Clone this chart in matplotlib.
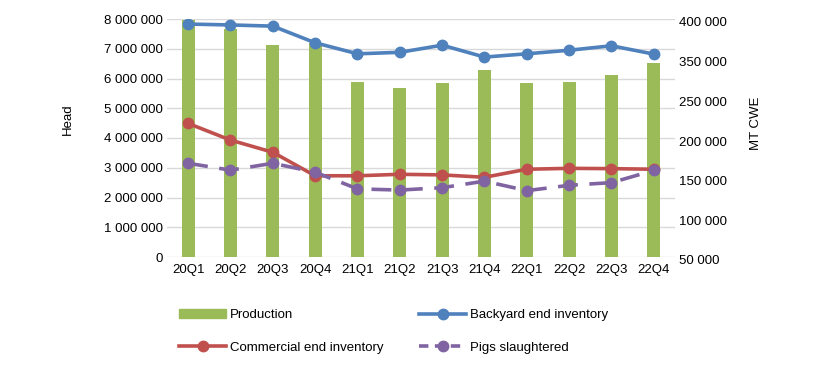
import numpy as np
import matplotlib.pyplot as plt
from matplotlib.patches import Patch
from matplotlib.lines import Line2D
from matplotlib.transforms import ScaledTranslation

plt.rcParams['font.family'] = ['Liberation Sans', 'DejaVu Sans']

quarters = ['20Q1', '20Q2', '20Q3', '20Q4', '21Q1', '21Q2',
            '21Q3', '21Q4', '22Q1', '22Q2', '22Q3', '22Q4']

# production, MT CWE (right axis)
production = [349000, 338000, 317000, 320000, 271000, 263000,
              269000, 286000, 269000, 270000, 279000, 294000]

# head (left axis)
backyard = [7830000, 7800000, 7760000, 7200000, 6830000, 6880000,
            7120000, 6720000, 6830000, 6950000, 7100000, 6820000]
commercial = [4490000, 3930000, 3520000, 2730000, 2730000, 2780000,
              2760000, 2680000, 2950000, 2980000, 2970000, 2950000]
slaughtered = [3150000, 2920000, 3150000, 2850000, 2290000, 2250000,
               2330000, 2550000, 2230000, 2410000, 2500000, 2910000]

left_ticks = [0, 1000000, 2000000, 3000000, 4000000, 5000000, 6000000, 7000000, 8000000]
right_ticks = [50000, 100000, 150000, 200000, 250000, 300000, 350000]
right_labels = ['50 000', '100 000', '150 000', '200 000', '250 000', '350 000', '400 000']

green = '#9BBB59'
blue = '#4F81BD'
red = '#C0504D'
purple = '#8064A2'
fs = 9.5

fig = plt.figure(figsize=(8.2, 3.66), dpi=100)
pos = [167/820, 1-257/366, 508/820, 238/366]
x = np.arange(len(quarters))

# bottom layer: grid + left axis
ax = fig.add_axes(pos)
ax.set_ylim(0, 8000000)
ax.set_xlim(-0.5, len(quarters)-0.5)
ax.set_yticks(left_ticks)
ax.set_yticklabels([f'{v:,}'.replace(',', ' ') for v in left_ticks], fontsize=fs)
ax.grid(axis='y', color='#d9d9d9', lw=1)
ax.set_axisbelow(True)
ax.set_xticks(x)
ax.set_xticklabels(quarters, fontsize=fs)
ax.tick_params(axis='y', length=0, pad=3)
ax.tick_params(axis='x', length=0, pad=5)
for s in ax.spines.values():
    s.set_visible(False)
ax.set_ylabel('Head', fontsize=fs)
ax.yaxis.set_label_coords(-0.183, 0.58)

# middle layer: bars on right axis
ax2 = ax.twinx()
ax2.bar(x, production, width=0.3, color=green)
ax2.set_ylim(50000, 350000)
ax2.set_yticks(right_ticks)
ax2.set_yticklabels(right_labels, fontsize=fs)
ax2.tick_params(length=0, pad=3)
for s in ax2.spines.values():
    s.set_visible(False)
shift = ScaledTranslation(0, -3/100, fig.dpi_scale_trans)
for lab in ax2.get_yticklabels():
    lab.set_transform(lab.get_transform() + shift)
ax2.set_ylabel('MT CWE', fontsize=fs)
ax2.yaxis.set_label_coords(1.148, 0.56)

# top layer: lines on left scale
ax3 = fig.add_axes(pos, sharex=ax, sharey=ax)
ax3.axis('off')
ax3.patch.set_visible(False)
lw = 2.6
ms = 7.5
ax3.plot(x, backyard, color=blue, lw=lw, marker='o', ms=ms)
ax3.plot(x, commercial, color=red, lw=lw, marker='o', ms=ms)
ax3.plot(x, slaughtered, color=purple, lw=lw, marker='o', ms=ms, dashes=(5.5, 3.2))

handles = [
    Patch(color=green),
    Line2D([], [], color=red, lw=lw, marker='o', ms=ms),
    Line2D([], [], color=blue, lw=lw, marker='o', ms=ms),
    Line2D([], [], color=purple, lw=lw, marker='o', ms=ms, dashes=(2.6, 1.8)),
]
labels = ['Production', 'Commercial end inventory', 'Backyard end inventory', 'Pigs slaughtered']
fig.legend(handles, labels, ncol=2, loc='upper left', bbox_to_anchor=(179/820, 1-309/366),
           frameon=False, fontsize=fs, handlelength=3.6, handletextpad=0.25,
           columnspacing=2.7, labelspacing=1.55, borderpad=0, borderaxespad=0)

fig.savefig('out.png', dpi=100)
